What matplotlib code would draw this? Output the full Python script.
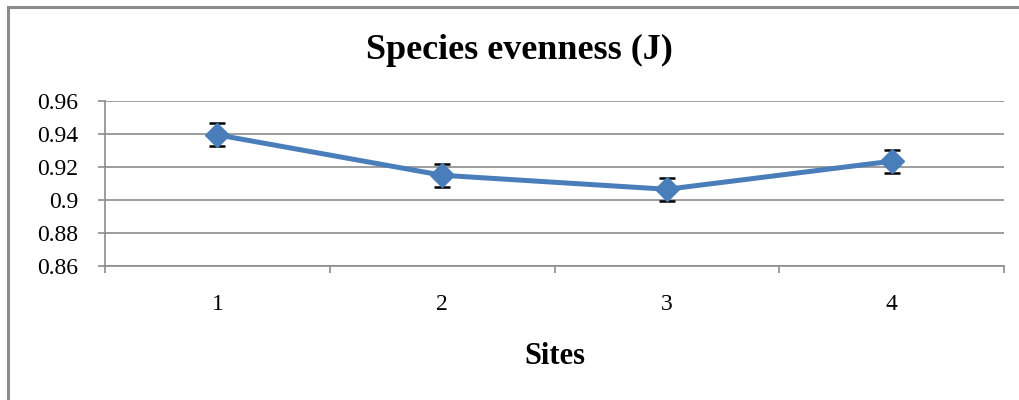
import matplotlib.pyplot as plt
from matplotlib.patches import Rectangle

# Data
sites = ['1', '2', '3', '4']
evenness = [0.9395, 0.9150, 0.9065, 0.9235]
errors = [0.0070, 0.0070, 0.0070, 0.0070]
y_ticks = [0.86, 0.88, 0.90, 0.92, 0.94, 0.96]
y_tick_labels = ['0.86', '0.88', '0.9', '0.92', '0.94', '0.96']

plt.rcParams['font.family'] = ['Liberation Serif', 'DejaVu Serif']

fig = plt.figure(figsize=(10.19, 4.0), dpi=100)
ax = fig.add_axes([105 / 1019, 1 - 266 / 400, (1004 - 105) / 1019, (266 - 101) / 400])

# outer chart border (cut off on right and bottom like the reference)
fig.patches.append(Rectangle((8 / 1019, -0.05), 1.2, (400 - 7) / 400 + 0.05,
                             transform=fig.transFigure, fill=False,
                             edgecolor='#8c8c8c', linewidth=2.2))

x = list(range(len(sites)))
ax.errorbar(x, evenness, yerr=errors, color='#4a7ebb', linewidth=3.6,
            marker='D', markersize=12, markeredgecolor='#4a7ebb',
            ecolor='black', elinewidth=1.3, capsize=6, capthick=1.8, zorder=3)

ax.set_xlim(-0.5, len(sites) - 0.5)
ax.set_ylim(0.86, 0.96)
ax.set_yticks(y_ticks)
ax.set_yticklabels(y_tick_labels, fontsize=17)
ax.set_xticks(x)
ax.set_xticklabels(sites, fontsize=17)
ax.tick_params(axis='x', length=0, pad=20)
ax.set_xticks([i - 0.5 for i in range(len(sites) + 1)], minor=True)
ax.tick_params(axis='x', which='minor', length=5, color='#8c8c8c', width=1.2)
ax.tick_params(axis='y', length=5, color='#8c8c8c', width=1.2, pad=14)

ax.grid(axis='y', color='#8c8c8c', linewidth=1.2)
ax.set_axisbelow(True)
for side in ['top', 'right']:
    ax.spines[side].set_visible(False)
for side in ['left', 'bottom']:
    ax.spines[side].set_color('#8c8c8c')
    ax.spines[side].set_linewidth(1.2)

fig.text(519 / 1019, 1 - 50 / 400, 'Species evenness (J)', ha='center', va='center',
         fontsize=26, fontweight='bold')
fig.text(555 / 1019, 1 - 357 / 400, 'Sites', ha='center', va='center',
         fontsize=22, fontweight='bold')

fig.savefig('out.png', dpi=100)
